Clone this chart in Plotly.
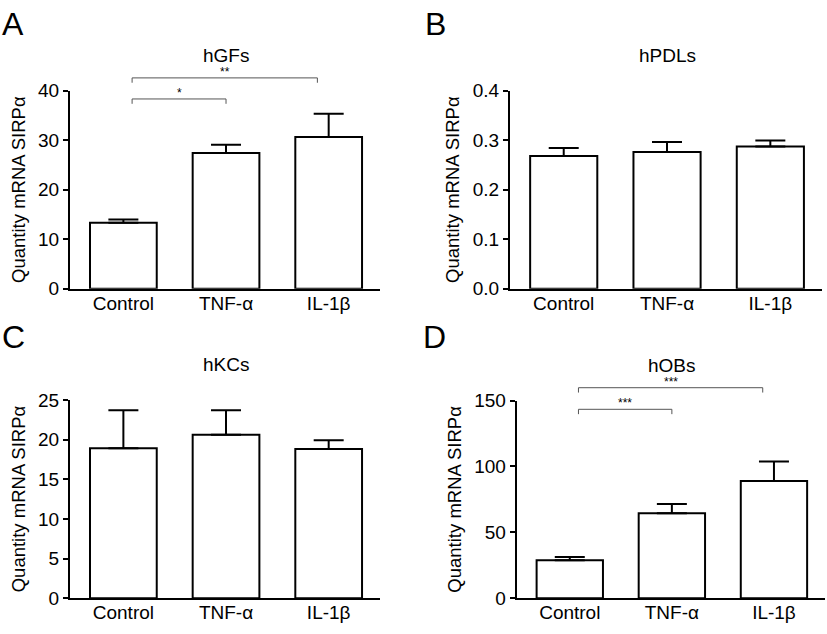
import plotly.graph_objects as go

# ---------------- data ----------------
categories = ["Control", "TNF-α", "IL-1β"]
panel_letters = ["A", "B", "C", "D"]
panel_titles = ["hGFs", "hPDLs", "hKCs", "hOBs"]

hgfs_mean = [13.3, 27.4, 30.6]
hgfs_sem = [0.65, 1.65, 4.7]
hpdls_mean = [0.268, 0.276, 0.287]
hpdls_sem = [0.016, 0.020, 0.012]
hkcs_mean = [18.9, 20.6, 18.8]
hkcs_sem = [4.8, 3.1, 1.1]
hobs_mean = [28.7, 64.4, 89.0]
hobs_sem = [2.6, 7.1, 14.7]

y_max = [40, 0.4, 25, 150]
y_tick_step = [10, 0.1, 5, 50]
y_tick_format = ["d", ".1f", "d", "d"]

# significance brackets: panel index, group from, group to, label, height (data units)
sig_panel = [0, 0, 3, 3]
sig_from = [0, 0, 0, 0]
sig_to = [1, 2, 1, 2]
sig_label = ["*", "**", "***", "***"]
sig_height = [38.3, 42.55, 143.4, 159.8]

y_title = "Quantity mRNA SIRPα"

# ---------------- layout geometry (pixels) ----------------
W, H = 827, 634
# (left, right, top, bottom) of each plot area in pixels
boxes = [
    (70, 380, 83.3, 288.3),
    (510, 822, 83.3, 288.3),
    (70, 380, 403.3, 608.3),
    (516.7, 825, 404, 608.3),
]
letter_pos = [(0, 14), (423, 14), (0, 338), (421, 338)]
FONT = "Liberation Sans, Arial, sans-serif"

means = [hgfs_mean, hpdls_mean, hkcs_mean, hobs_mean]
sems = [hgfs_sem, hpdls_sem, hkcs_sem, hobs_sem]

fig = go.Figure()
layout = dict(
    width=W, height=H,
    margin=dict(l=0, r=0, t=0, b=0),
    paper_bgcolor="white", plot_bgcolor="white",
    showlegend=False,
    font=dict(family=FONT, color="black"),
    annotations=[], shapes=[],
)

for i in range(4):
    sfx = "" if i == 0 else str(i + 1)
    fig.add_trace(go.Bar(
        x=list(range(len(categories))), y=means[i],
        xaxis="x" + sfx, yaxis="y" + sfx,
        width=0.65,
        marker=dict(color="white", line=dict(color="black", width=2)),
        error_y=dict(type="data", symmetric=False, array=sems[i],
                     arrayminus=[0] * len(sems[i]),
                     color="black", thickness=2, width=15),
    ))
    l, r, t, b = boxes[i]
    layout["xaxis" + sfx] = dict(
        domain=[l / W, r / W], anchor="y" + sfx,
        range=[-0.52, 2.5],
        tickmode="array", tickvals=list(range(len(categories))), ticktext=categories,
        ticks="", showline=True, linecolor="black", linewidth=2,
        showgrid=False, zeroline=False, fixedrange=True,
        ticklabelstandoff=-4,
        tickfont=dict(size=19, family=FONT),
    )
    layout["yaxis" + sfx] = dict(
        domain=[1 - b / H, 1 - t / H], anchor="x" + sfx,
        range=[0, y_max[i]],
        tick0=0, dtick=y_tick_step[i], tickformat=y_tick_format[i],
        ticks="outside", ticklen=5, tickwidth=2, tickcolor="black",
        showline=True, linecolor="black", linewidth=2,
        showgrid=False, zeroline=False, fixedrange=True,
        tickfont=dict(size=19, family=FONT),
        title=dict(text=y_title, font=dict(size=18.5, family=FONT), standoff=8),
    )
    # panel title
    layout["annotations"].append(dict(
        text=panel_titles[i], xref="x" + sfx, yref="paper",
        x=1, y=1 - (t - 36.5) / H, showarrow=False,
        font=dict(size=19, family=FONT), xanchor="center", yanchor="middle",
    ))
    # panel letter
    lx, ly = letter_pos[i]
    layout["annotations"].append(dict(
        text=panel_letters[i], xref="paper", yref="paper",
        x=lx / W, y=1 - ly / H,
        showarrow=False, font=dict(size=32, family=FONT),
        xanchor="left", yanchor="middle",
    ))

# significance brackets
tick_depth = 5  # px
for k in range(len(sig_panel)):
    p = sig_panel[k]
    sfx = "" if p == 0 else str(p + 1)
    l, r, t, b = boxes[p]
    ph = b - t
    yd = sig_height[k] / y_max[p]
    dd = tick_depth / ph
    x0 = sig_from[k] + 0.085
    x1 = sig_to[k] if sig_to[k] == 1 else sig_to[k] - 0.11
    path = f"M{x0},{yd - dd} L{x0},{yd} L{x1},{yd} L{x1},{yd - dd}"
    layout["shapes"].append(dict(
        type="path", path=path, xref="x" + sfx, yref="y" + sfx + " domain",
        line=dict(color="#555555", width=1),
    ))
    layout["annotations"].append(dict(
        text=sig_label[k], xref="x" + sfx, yref="y" + sfx + " domain",
        x=(x0 + x1) / 2, y=yd, showarrow=False, yanchor="bottom", yshift=-3,
        font=dict(size=12, family=FONT),
    ))

fig.update_layout(**layout)
post = (
    "document.documentElement.style.margin='0';"
    "document.documentElement.style.overflow='hidden';"
    "document.body.style.margin='0';document.body.style.padding='0';"
    "document.body.style.overflow='hidden';"
    "var d=document.getElementById('{plot_id}');"
    "d.style.position='fixed';d.style.left='0px';d.style.top='0px';"
)
fig.write_html("out.html", config={"displayModeBar": False}, post_script=post)
